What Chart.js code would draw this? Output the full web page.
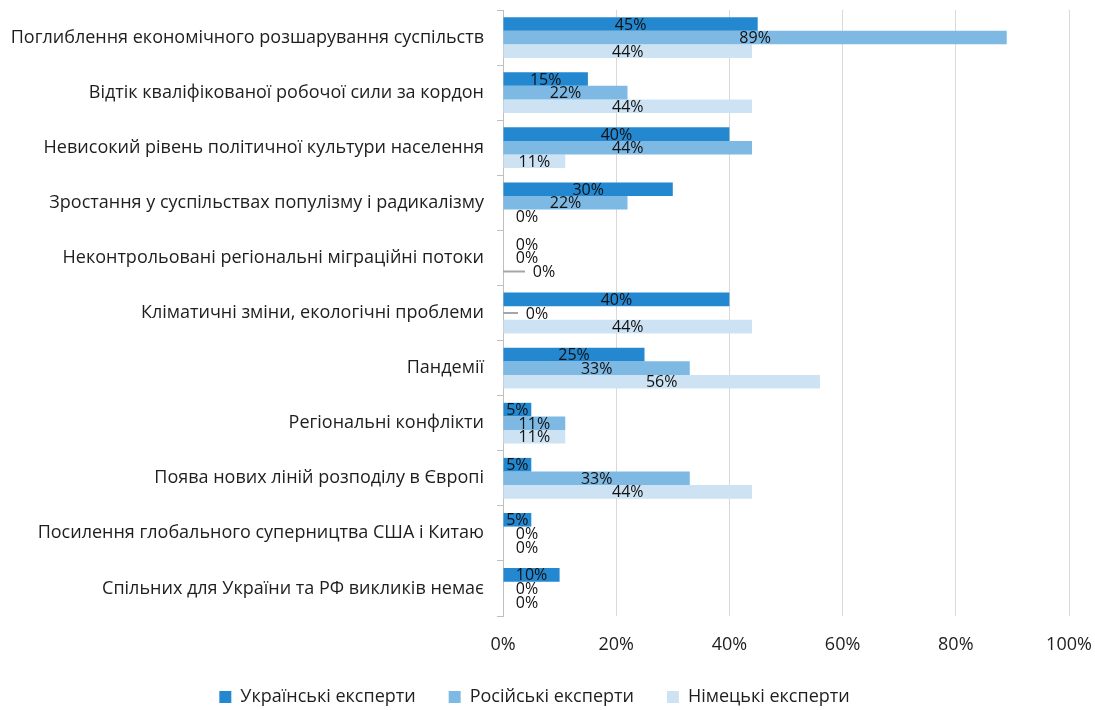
<!DOCTYPE html>
<html lang="uk">
<head>
<meta charset="utf-8">
<title>Виклики</title>
<script src="https://cdn.jsdelivr.net/npm/chart.js@4/dist/chart.umd.min.js"></script>
<style>
  html, body { margin: 0; padding: 0; background: #fff; }
  #wrap { width: 1095px; height: 710px; }
</style>
</head>
<body>
<div id="wrap"><canvas id="chart"></canvas></div>
<script>
const categories = [
  "Поглиблення економічного розшарування суспільств",
  "Відтік кваліфікованої робочої сили за кордон",
  "Невисокий рівень політичної культури населення",
  "Зростання у суспільствах популізму і радикалізму",
  "Неконтрольовані регіональні міграційні потоки",
  "Кліматичні зміни, екологічні проблеми",
  "Пандемії",
  "Регіональні конфлікти",
  "Поява нових ліній розподілу в Європі",
  "Посилення глобального суперництва США і Китаю",
  "Спільних для України та РФ викликів немає",
];

const ukrainian = [45, 15, 40, 30, 0, 40, 25, 5, 5, 5, 10];
const russian = [89, 22, 44, 22, 0, 0, 33, 11, 33, 0, 0];
const german = [44, 44, 11, 0, 0, 44, 56, 11, 44, 0, 0];

const xTicks = [0, 20, 40, 60, 80, 100];

const fontFamily = "'Open Sans', 'Noto Sans', sans-serif";
const textColor = "#1e1e1e";

// labels that were pulled out with a leader line ("dataset-index": extra shift)
const leaderShift = { "2-4": 17, "1-5": 10 };

// value labels in the middle of each bar, zero values a bit to the right of the axis
const barLabels = {
  id: "barLabels",
  afterDatasetsDraw(chart) {
    const ctx = chart.ctx;
    ctx.save();
    ctx.font = "16px " + fontFamily;
    ctx.textAlign = "center";
    ctx.textBaseline = "middle";
    chart.data.datasets.forEach((ds, i) => {
      chart.getDatasetMeta(i).data.forEach((bar, j) => {
        const v = ds.data[j];
        let x = (bar.x + bar.base) / 2;
        if (v === 0) x = bar.base + 24;
        const shift = leaderShift[i + "-" + j];
        if (shift) {
          x += shift;
          ctx.strokeStyle = "#a6a6a6";
          ctx.lineWidth = 2;
          ctx.beginPath();
          ctx.moveTo(bar.base, bar.y);
          ctx.lineTo(x - 19, bar.y);
          ctx.stroke();
        }
        ctx.fillStyle = "#111";
        ctx.fillText(v + "%", x, bar.y + 1);
      });
    });
    ctx.restore();
  },
};

const ctx = document.getElementById("chart");

new Chart(ctx, {
  type: "bar",
  data: {
    labels: categories,
    datasets: [
      {
        label: "Українські експерти",
        data: ukrainian,
        backgroundColor: "#2488d0",
      },
      {
        label: "Російські експерти",
        data: russian,
        backgroundColor: "#7eb9e3",
      },
      {
        label: "Німецькі експерти",
        data: german,
        backgroundColor: "#cde3f4",
      },
    ],
  },
  options: {
    indexAxis: "y",
    responsive: true,
    maintainAspectRatio: false,
    animation: false,
    categoryPercentage: 0.74,
    barPercentage: 1,
    layout: { padding: { top: 10, right: 26, bottom: -6, left: 0 } },
    scales: {
      x: {
        min: 0,
        max: 100,
        afterBuildTicks: (scale) => {
          scale.ticks = xTicks.map((v) => ({ value: v }));
        },
        afterFit: (scale) => {
          scale.height = 39;
          scale.paddingLeft = 0;
          scale.paddingRight = 0;
        },
        ticks: {
          callback: (v) => v + "%",
          color: textColor,
          padding: 18,
          font: { family: fontFamily, size: 18 },
        },
        grid: { color: "#d9d9d9", drawTicks: false },
        border: { display: false },
      },
      y: {
        afterFit: (scale) => {
          scale.width = 503;
          scale.paddingTop = 0;
          scale.paddingBottom = 0;
        },
        ticks: {
          color: textColor,
          padding: 13,
          font: { family: fontFamily, size: 18 },
        },
        grid: {
          offset: true,
          drawOnChartArea: false,
          tickLength: 6,
          color: "#bfbfbf",
        },
        border: { color: "#bfbfbf" },
      },
    },
    plugins: {
      legend: {
        position: "bottom",
        labels: {
          boxWidth: 12,
          boxHeight: 12,
          padding: 33,
          color: textColor,
          font: { family: fontFamily, size: 18 },
        },
      },
      tooltip: { enabled: false },
    },
  },
  plugins: [barLabels],
});
</script>
</body>
</html>
